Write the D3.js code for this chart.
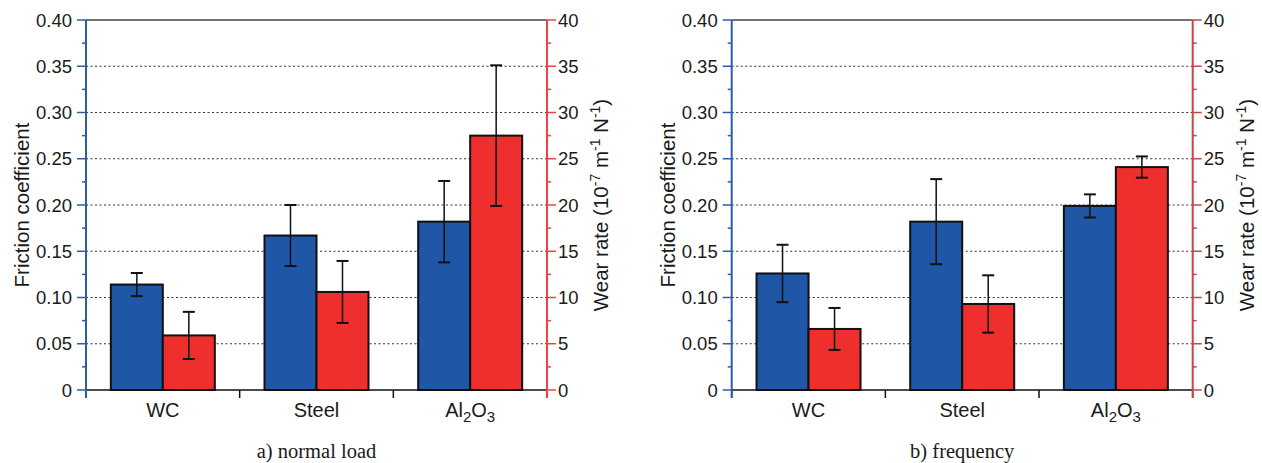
<!DOCTYPE html>
<html>
<head>
<meta charset="utf-8">
<script src="https://cdn.jsdelivr.net/npm/d3@7"></script>
<style>
  body { margin: 0; background: #fff; }
  text { font-family: 'Liberation Sans', Arial, sans-serif; fill: #1a1a1a; }
  .caption { font-family: 'Liberation Serif', 'Times New Roman', serif; }
</style>
</head>
<body>
<div id="chart"></div>
<script>
// Data
const categories = ['WC', 'Steel', 'Al2O3'];
const frictionLoad = [0.114, 0.167, 0.182];
const frictionLoadErr = [0.0125, 0.033, 0.044];
const wearLoad = [5.9, 10.6, 27.5];
const wearLoadErr = [2.55, 3.35, 7.6];
const frictionFreq = [0.126, 0.182, 0.199];
const frictionFreqErr = [0.031, 0.046, 0.0125];
const wearFreq = [6.6, 9.3, 24.1];
const wearFreqErr = [2.27, 3.1, 1.15];
const frictionTicks = [0, 0.05, 0.1, 0.15, 0.2, 0.25, 0.3, 0.35, 0.4];
const wearTicks = [0, 5, 10, 15, 20, 25, 30, 35, 40];
const captions = ['a) normal load', 'b) frequency'];

const panels = [
  { left: 86, caption: captions[0], friction: frictionLoad, frictionErr: frictionLoadErr, wear: wearLoad, wearErr: wearLoadErr, redAxis: '#ee4242' },
  { left: 731.7, caption: captions[1], friction: frictionFreq, frictionErr: frictionFreqErr, wear: wearFreq, wearErr: wearFreqErr, redAxis: '#c94444' },
];

// Dimensions
const dims = { width: 1262, height: 463, top: 20, bottom: 390, plotWidth: 461 };

const svg = d3
  .select('#chart')
  .append('svg')
  .attr('width', dims.width)
  .attr('height', dims.height);

const blue = '#1f56a6';
const red = '#ee2f2d';
const axisBlue = '#2c5ea8';

function drawPanel(p) {
  const g = svg.append('g').attr('transform', `translate(${p.left}, 0)`);
  const w = dims.plotWidth;

  // Scales
  const xScale = d3.scaleBand().domain(categories).range([0, w]);
  const inner = d3.scaleBand().domain(['friction', 'wear']).range([0, 104]);
  const yFric = d3.scaleLinear().domain([0, 0.4]).range([dims.bottom, dims.top]);
  const yWear = d3.scaleLinear().domain([0, 40]).range([dims.bottom, dims.top]);

  // Grid
  g.append('g')
    .selectAll('line')
    .data(frictionTicks.slice(1, -1))
    .join('line')
    .attr('x1', 0)
    .attr('x2', w)
    .attr('y1', (d) => yFric(d))
    .attr('y2', (d) => yFric(d))
    .attr('stroke', '#333')
    .attr('stroke-width', 1.2)
    .attr('stroke-dasharray', '2,2.5');

  // top border
  g.append('line')
    .attr('x1', 0).attr('x2', w)
    .attr('y1', dims.top).attr('y2', dims.top)
    .attr('stroke', '#444').attr('stroke-width', 1.3);

  // Bars
  const rows = categories.map((c, i) => ({
    cat: c,
    friction: p.friction[i],
    frictionErr: p.frictionErr[i],
    wear: p.wear[i],
    wearErr: p.wearErr[i],
  }));

  const barX = (d, key) => xScale(d.cat) + (xScale.bandwidth() - 104) / 2 + inner(key);

  const groups = g.append('g').selectAll('g').data(rows).join('g');

  groups.append('rect')
    .attr('x', (d) => barX(d, 'friction'))
    .attr('y', (d) => yFric(d.friction))
    .attr('width', inner.bandwidth())
    .attr('height', (d) => dims.bottom - yFric(d.friction))
    .attr('fill', blue)
    .attr('stroke', '#111')
    .attr('stroke-width', 2);

  groups.append('rect')
    .attr('x', (d) => barX(d, 'wear'))
    .attr('y', (d) => yWear(d.wear))
    .attr('width', inner.bandwidth())
    .attr('height', (d) => dims.bottom - yWear(d.wear))
    .attr('fill', red)
    .attr('stroke', '#111')
    .attr('stroke-width', 2);

  // Error bars
  const errBar = (sel, xf, lo, hi) => {
    sel.append('line')
      .attr('x1', xf).attr('x2', xf)
      .attr('y1', lo).attr('y2', hi)
      .attr('stroke', '#111').attr('stroke-width', 1.5);
    [lo, hi].forEach((yf) => {
      sel.append('line')
        .attr('x1', (d) => xf(d) - 6).attr('x2', (d) => xf(d) + 6)
        .attr('y1', yf).attr('y2', yf)
        .attr('stroke', '#111').attr('stroke-width', 2);
    });
  };
  errBar(
    groups,
    (d) => barX(d, 'friction') + inner.bandwidth() / 2,
    (d) => yFric(d.friction - d.frictionErr),
    (d) => yFric(d.friction + d.frictionErr)
  );
  errBar(
    groups,
    (d) => barX(d, 'wear') + inner.bandwidth() / 2,
    (d) => yWear(d.wear - d.wearErr),
    (d) => yWear(d.wear + d.wearErr)
  );

  // X axis
  const xAxisGroup = g.append('g');
  xAxisGroup.append('line')
    .attr('x1', 0).attr('x2', w)
    .attr('y1', dims.bottom).attr('y2', dims.bottom)
    .attr('stroke', '#111').attr('stroke-width', 1.5);
  const bounds = categories.map((c) => xScale(c)).concat([w]);
  xAxisGroup.selectAll('.xt')
    .data(bounds)
    .join('line')
    .attr('x1', (d) => d).attr('x2', (d) => d)
    .attr('y1', dims.bottom).attr('y2', dims.bottom + 8)
    .attr('stroke', '#111').attr('stroke-width', 1.5);

  const catLabels = xAxisGroup.selectAll('.cat')
    .data(categories)
    .join('text')
    .attr('x', (d) => xScale(d) + xScale.bandwidth() / 2)
    .attr('y', 417)
    .attr('text-anchor', 'middle')
    .style('font-size', '20px');
  catLabels.each(function (d) {
    const t = d3.select(this);
    if (d === 'Al2O3') {
      t.append('tspan').text('Al');
      t.append('tspan').attr('dy', 5).style('font-size', '15px').text('2');
      t.append('tspan').attr('dy', -5).text('O');
      t.append('tspan').attr('dy', 5).style('font-size', '15px').text('3');
    } else {
      t.text(d);
    }
  });

  // Left axis (friction)
  const minorFric = d3.range(0.025, 0.4, 0.05);
  const leftAxis = g.append('g');
  leftAxis.append('line')
    .attr('x1', 0).attr('x2', 0)
    .attr('y1', dims.top).attr('y2', dims.bottom + 8)
    .attr('stroke', axisBlue).attr('stroke-width', 2);
  leftAxis.selectAll('.maj')
    .data(frictionTicks)
    .join('line')
    .attr('x1', -9).attr('x2', 0)
    .attr('y1', (d) => yFric(d)).attr('y2', (d) => yFric(d))
    .attr('stroke', axisBlue).attr('stroke-width', 1.5);
  leftAxis.selectAll('.min')
    .data(minorFric)
    .join('line')
    .attr('class', 'min')
    .attr('x1', -4).attr('x2', 0)
    .attr('y1', (d) => yFric(d)).attr('y2', (d) => yFric(d))
    .attr('stroke', axisBlue).attr('stroke-width', 1.5);
  leftAxis.selectAll('text')
    .data(frictionTicks)
    .join('text')
    .attr('x', -14)
    .attr('y', (d) => yFric(d))
    .attr('dy', '0.36em')
    .attr('text-anchor', 'end')
    .style('font-size', '18.5px')
    .text((d) => (d === 0 ? '0' : d3.format('.2f')(d)));

  g.append('text')
    .attr('transform', `translate(-64, ${(dims.top + dims.bottom) / 2}) rotate(-90)`)
    .attr('text-anchor', 'middle')
    .attr('dy', '0.36em')
    .style('font-size', '20.5px')
    .text('Friction coefficient');

  // Right axis (wear)
  const minorWear = d3.range(2.5, 40, 5);
  const rightAxis = g.append('g').attr('transform', `translate(${w}, 0)`);
  rightAxis.append('line')
    .attr('x1', 0).attr('x2', 0)
    .attr('y1', dims.top).attr('y2', dims.bottom + 8)
    .attr('stroke', p.redAxis).attr('stroke-width', 2);
  rightAxis.selectAll('.maj')
    .data(wearTicks)
    .join('line')
    .attr('x1', 0).attr('x2', 9)
    .attr('y1', (d) => yWear(d)).attr('y2', (d) => yWear(d))
    .attr('stroke', p.redAxis).attr('stroke-width', 1.5);
  rightAxis.selectAll('.min')
    .data(minorWear)
    .join('line')
    .attr('class', 'min')
    .attr('x1', 0).attr('x2', 4)
    .attr('y1', (d) => yWear(d)).attr('y2', (d) => yWear(d))
    .attr('stroke', p.redAxis).attr('stroke-width', 1.5);
  rightAxis.selectAll('text')
    .data(wearTicks)
    .join('text')
    .attr('x', 11)
    .attr('y', (d) => yWear(d))
    .attr('dy', '0.36em')
    .style('font-size', '18.5px')
    .text((d) => d);

  const wearTitle = g.append('text')
    .attr('transform', `translate(${w + 54}, ${(dims.top + dims.bottom) / 2}) rotate(-90)`)
    .attr('text-anchor', 'middle')
    .attr('dy', '0.36em')
    .style('font-size', '20.5px');
  wearTitle.append('tspan').text('Wear rate (10');
  wearTitle.append('tspan').attr('dy', -8).style('font-size', '14px').text('-7');
  wearTitle.append('tspan').attr('dy', 8).text(' m');
  wearTitle.append('tspan').attr('dy', -8).style('font-size', '14px').text('-1');
  wearTitle.append('tspan').attr('dy', 8).text(' N');
  wearTitle.append('tspan').attr('dy', -8).style('font-size', '14px').text('-1');
  wearTitle.append('tspan').attr('dy', 8).text(')');

  // Caption
  g.append('text')
    .attr('class', 'caption')
    .attr('x', w / 2)
    .attr('y', 458)
    .attr('text-anchor', 'middle')
    .style('font-size', '20.5px')
    .text(p.caption);
}

panels.forEach(drawPanel);
</script>
</body>
</html>
